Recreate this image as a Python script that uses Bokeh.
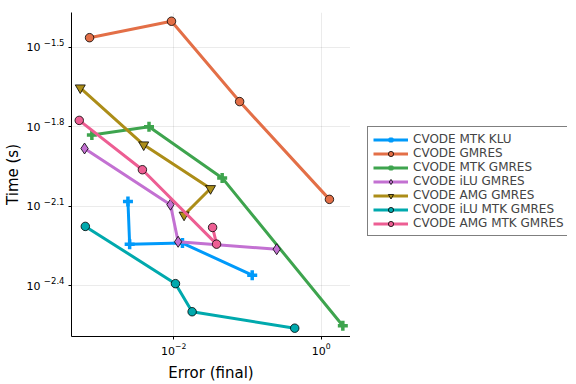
from bokeh.plotting import figure
from bokeh.layouts import row
from bokeh.models import (Range1d, FixedTicker, Legend, LegendItem, LogAxis, LogScale)
from bokeh.embed import file_html
from bokeh.resources import INLINE

labels = ["CVODE MTK KLU", "CVODE GMRES", "CVODE MTK GMRES", "CVODE iLU GMRES",
          "CVODE AMG GMRES", "CVODE iLU MTK GMRES", "CVODE AMG MTK GMRES"]
colors = ["#009AFA", "#E36F47", "#3EA44E", "#C371D2", "#AC8D18", "#00A9AD", "#ED5E93"]
markers = ["cross", "circle", "cross", "diamond", "inverted_triangle", "circle", "circle"]

err_mtk_klu = [0.002388, 0.002518, 0.01312, 0.1161]
time_mtk_klu = [0.008279, 0.005715, 0.005768, 0.004365]
err_gmres = [0.000719, 0.009311, 0.07834, 1.2972]
time_gmres = [0.03436, 0.03963, 0.01972, 0.008433]
err_mtk_gmres = [0.000773, 0.004613, 0.04539, 1.972]
time_mtk_gmres = [0.01476, 0.01585, 0.01016, 0.002812]
err_ilu_gmres = [0.000615, 0.009016, 0.01146, 0.2495]
time_ilu_gmres = [0.01312, 0.008054, 0.005834, 0.005470]
err_amg_gmres = [0.000538, 0.003908, 0.03155, 0.01380]
time_amg_gmres = [0.02223, 0.01355, 0.009268, 0.007362]
err_ilu_mtk_gmres = [0.000630, 0.01054, 0.01774, 0.4385]
time_ilu_mtk_gmres = [0.006668, 0.004055, 0.003177, 0.002754]
err_amg_mtk_gmres = [0.000521, 0.003750, 0.03811, 0.03365]
time_amg_mtk_gmres = [0.01675, 0.01091, 0.005715, 0.006607]

x_ticks = [0.01, 1.0]
y_ticks = [10 ** -2.4, 10 ** -2.1, 10 ** -1.8, 10 ** -1.5]
y_tick_bases = ["10", "10", "10", "10"]
y_tick_exponents = ["\u22122.4", "\u22122.1", "\u22121.8", "\u22121.5"]

series_x = [err_mtk_klu, err_gmres, err_mtk_gmres, err_ilu_gmres,
            err_amg_gmres, err_ilu_mtk_gmres, err_amg_mtk_gmres]
series_y = [time_mtk_klu, time_gmres, time_mtk_gmres, time_ilu_gmres,
            time_amg_gmres, time_ilu_mtk_gmres, time_amg_mtk_gmres]

FONT = "DejaVu Sans"
Y0, Y1 = 0.002562, 0.04276
SHIFT = 10 ** 0.019  # raises exponent labels a few pixels

p = figure(frame_width=279, frame_height=324, x_axis_type="log", y_axis_type="log",
           x_range=Range1d(0.000409, 2.506), y_range=Range1d(Y0, Y1),
           output_backend="svg", toolbar_location=None,
           min_border_left=60, min_border_right=0, min_border_top=12, min_border_bottom=40)
p.outline_line_color = None
p.background_fill_color = "white"
p.extra_y_ranges = {"expo": Range1d(Y0 / SHIFT, Y1 / SHIFT)}
p.extra_y_scales = {"expo": LogScale()}

def style_axis(ax):
    ax.major_tick_in = 0
    ax.major_tick_out = 3
    ax.minor_tick_line_color = None
    ax.axis_line_color = "black"
    ax.axis_line_width = 1
    ax.major_tick_line_color = "black"
    ax.major_label_text_font = FONT
    ax.major_label_text_font_size = "11px"
    ax.major_label_text_color = "black"
    ax.axis_label_text_font = FONT
    ax.axis_label_text_font_size = "15px"
    ax.axis_label_text_font_style = "normal"
    ax.axis_label_text_color = "black"

xa = p.xaxis[0]
style_axis(xa)
xa.ticker = FixedTicker(ticks=x_ticks)
xa.axis_label = "Error (final)"
xa.axis_label_standoff = 6
xa.major_label_standoff = 3

ya = p.yaxis[0]
style_axis(ya)
ya.ticker = FixedTicker(ticks=y_ticks)
ya.major_label_overrides = {t: "" for t in y_ticks}
ya.major_label_standoff = 0

ye = LogAxis(y_range_name="expo", ticker=FixedTicker(ticks=y_ticks))
style_axis(ye)
ye.axis_line_color = None
ye.major_tick_line_color = None
ye.major_tick_out = 0
ye.major_label_text_font_size = "8.5px"
ye.major_label_standoff = 4
ye.major_label_overrides = dict(zip(y_ticks, y_tick_exponents))
p.add_layout(ye, "left")

yb = LogAxis(ticker=FixedTicker(ticks=y_ticks))
style_axis(yb)
yb.axis_line_color = None
yb.major_tick_line_color = None
yb.major_tick_out = 0
yb.major_label_standoff = 0
yb.major_label_overrides = dict(zip(y_ticks, y_tick_bases))
yb.axis_label = "Time (s)"
yb.axis_label_standoff = 2
p.add_layout(yb, "left")

p.xgrid.ticker = FixedTicker(ticks=x_ticks)
p.ygrid.ticker = FixedTicker(ticks=y_ticks)
for g in (p.xgrid[0], p.ygrid[0]):
    g.grid_line_color = "black"
    g.grid_line_alpha = 0.08
    g.minor_grid_line_color = None

# legend lives in its own narrow figure to the right (its ranges hide the data)
lf = figure(width=217, height=376, x_range=Range1d(100, 101), y_range=Range1d(100, 101),
            x_axis_location=None, y_axis_location=None,
            output_backend="svg", toolbar_location=None,
            min_border_left=0, min_border_right=0, min_border_top=0, min_border_bottom=0)
lf.outline_line_color = None
lf.xgrid.visible = False
lf.ygrid.visible = False

def add_series(fig, xs, ys, col, mk):
    r1 = fig.line(xs, ys, line_color=col, line_width=3)
    if mk == "cross":
        r2 = fig.scatter(xs, ys, marker="cross", size=10, line_color=col, line_width=3.5)
    else:
        sz = {"circle": 8.5, "diamond": 11, "inverted_triangle": 10}[mk]
        r2 = fig.scatter(xs, ys, marker=mk, size=sz, fill_color=col,
                         line_color="black", line_width=0.8)
    return [r1, r2]

items = []
for lab, col, mk, xs, ys in zip(labels, colors, markers, series_x, series_y):
    add_series(p, xs, ys, col, mk)
    items.append(LegendItem(label=lab, renderers=add_series(lf, xs, ys, col, mk)))

legend = Legend(items=items, location=(17, 92))
legend.label_text_font = FONT
legend.label_text_font_size = "12px"
legend.label_standoff = 5
legend.glyph_width = 35
legend.glyph_height = 13
legend.label_height = 13
legend.spacing = 0
legend.padding = 5
legend.margin = 0
legend.border_line_color = "black"
legend.border_line_width = 1
legend.background_fill_alpha = 1
lf.add_layout(legend)

layout = row(p, lf)
open("out.html", "w").write(file_html(layout, INLINE))
